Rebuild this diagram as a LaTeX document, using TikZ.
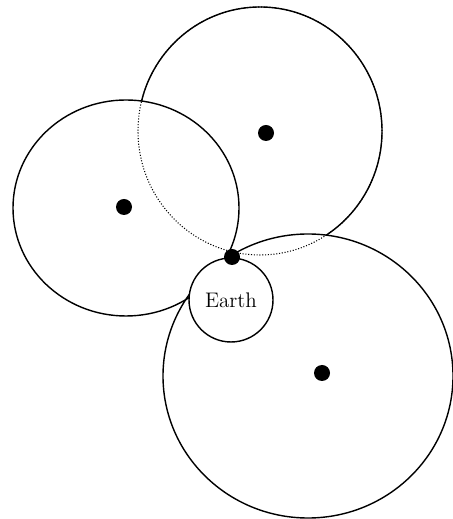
\documentclass[tikz,border=0pt]{standalone}
\usetikzlibrary{positioning}

\begin{document}
\begin{tikzpicture}[
  x=0.02cm, y=0.02cm,
  rangeline/.style={line width=0.8pt},
  hiddenline/.style={line width=0.6pt, densely dotted},
  station/.style={circle, fill=black, inner sep=0pt, minimum size=0.32cm},
]
  \useasboundingbox (0,0) rectangle (452,519);

  % range circles of the west and south stations
  \draw[rangeline] (126,311) ellipse [x radius=113, y radius=108];
  \draw[rangeline] (308,143) ellipse [x radius=145, y radius=142];

  % north circle: dotted inside the other two, solid elsewhere
  \draw[hiddenline] (260,388) ellipse [x radius=122, y radius=124];
  \begin{scope}[even odd rule]
    \clip (0,0) rectangle (452,519)
      (126,311) ellipse [x radius=113, y radius=108];
    \clip (0,0) rectangle (452,519)
      (308,143) ellipse [x radius=145, y radius=142];
    \draw[rangeline] (260,388) ellipse [x radius=122, y radius=124];
  \end{scope}

  % Earth
  \node[circle, draw, fill=white, line width=0.8pt, inner sep=0pt,
        minimum size=1.68cm, font=\fontsize{12}{14}\selectfont]
    (earth) at (231,219) {Earth};

  % stations and the common fix
  \node[station] (west)  at (124,312) {};
  \node[station] (north) at (266,386) {};
  \node[station] (south) at (322,146) {};
  \node[station] (fix)   at (232,262) {};
\end{tikzpicture}
\end{document}
